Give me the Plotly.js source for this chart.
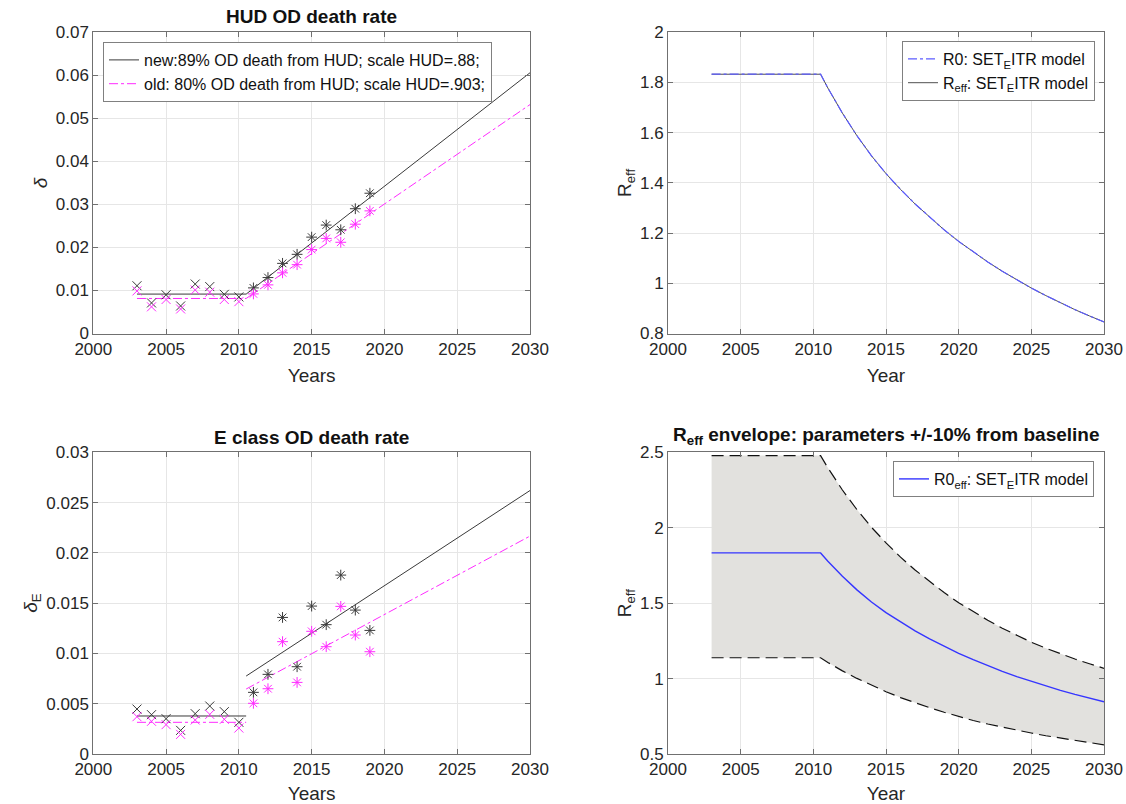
<!DOCTYPE html>
<html>
<head>
<meta charset="utf-8">
<script src="https://cdn.plot.ly/plotly-3.0.1.min.js"></script>
<style>
  html, body { margin: 0; padding: 0; background: #fff; }
  #chart { width: 1126px; height: 804px; }
</style>
</head>
<body>
<div id="chart"></div>
<script>
// Observation years for the OD death rate panels
const years = [2003, 2004, 2005, 2006, 2007, 2008, 2009, 2010, 2011, 2012, 2013, 2014, 2015, 2016, 2017, 2018, 2019];

// HUD OD death rate (delta): new vs old attribution
const hudNew = [0.0111, 0.0071, 0.0090, 0.0064, 0.0115, 0.0109, 0.0091, 0.0085, 0.0106, 0.0130, 0.0163, 0.0184, 0.0224, 0.0252, 0.0241, 0.0290, 0.0326];
const hudOld = [0.0099, 0.0062, 0.0079, 0.0057, 0.0101, 0.0096, 0.0079, 0.0074, 0.0092, 0.0113, 0.0141, 0.0160, 0.0195, 0.0221, 0.0212, 0.0254, 0.0285];

// Fitted piecewise lines for delta (flat until 2010.5, then linear)
const hudFitYears = [2003, 2010.5, 2030];
const hudNewFit = [0.00916, 0.00916, 0.0606];
const hudOldFit = [0.00814, 0.00814, 0.0532];

// E class OD death rate (delta_E)
const eNew = [0.00447, 0.00391, 0.00351, 0.00235, 0.00401, 0.00477, 0.00421, 0.00315, 0.00613, 0.00792, 0.01358, 0.00868, 0.01471, 0.01286, 0.01779, 0.01431, 0.01229];
const eOld = [0.00371, 0.00325, 0.00292, 0.00195, 0.00338, 0.00394, 0.00345, 0.00258, 0.00504, 0.00649, 0.01117, 0.00712, 0.01220, 0.01067, 0.01468, 0.01183, 0.01017];

// Fitted lines for delta_E: flat segment and trend segment
const eFlatYears = [2003, 2010.5];
const eNewFlat = [0.00378, 0.00378];
const eOldFlat = [0.00315, 0.00315];
const eTrendYears = [2010.5, 2030];
const eNewTrend = [0.00775, 0.0262];
const eOldTrend = [0.00646, 0.02167];

// Effective reproduction number over time
const rYears = [2003, 2010.5, 2011, 2012, 2013, 2014, 2015, 2016, 2017, 2018, 2019, 2020, 2021, 2022, 2023, 2024, 2025, 2026, 2027, 2028, 2029, 2030];
const r0 = [1.833, 1.833, 1.778, 1.678, 1.588, 1.508, 1.437, 1.374, 1.316, 1.263, 1.213, 1.167, 1.125, 1.085, 1.048, 1.013, 0.981, 0.951, 0.922, 0.895, 0.870, 0.846];
const reff = [1.833, 1.833, 1.778, 1.678, 1.588, 1.508, 1.437, 1.374, 1.316, 1.263, 1.213, 1.167, 1.125, 1.085, 1.048, 1.013, 0.981, 0.951, 0.922, 0.895, 0.870, 0.846];
// Envelope with parameters +/-10% from baseline
const reffUpper = [2.478, 2.478, 2.397, 2.250, 2.120, 2.003, 1.900, 1.805, 1.720, 1.642, 1.570, 1.503, 1.443, 1.387, 1.334, 1.285, 1.241, 1.201, 1.164, 1.130, 1.098, 1.068];
const reffLower = [1.138, 1.138, 1.107, 1.051, 1.001, 0.955, 0.913, 0.874, 0.839, 0.807, 0.777, 0.748, 0.722, 0.699, 0.678, 0.658, 0.639, 0.621, 0.605, 0.590, 0.575, 0.561];

const FONT = 'Liberation Sans, Arial, Helvetica, sans-serif';
const BLACK = '#3a3a3a';
const MAGENTA = '#ff2bff';
const symbols = years.map(y => (y <= 2010 ? 'x-thin-open' : 'asterisk-open'));

function markers(xa, ya, yv, color) {
  return {
    x: years, y: yv, xaxis: xa, yaxis: ya, type: 'scatter', mode: 'markers',
    showlegend: false, hoverinfo: 'x+y',
    marker: { symbol: symbols, size: 9, color: color, line: { color: color, width: 1 } }
  };
}
function line(xa, ya, xs, ys, color, dash, width, extra) {
  return Object.assign({
    x: xs, y: ys, xaxis: xa, yaxis: ya, type: 'scatter', mode: 'lines',
    showlegend: false,
    line: { color: color, dash: dash, width: width }
  }, extra || {});
}

const traces = [
  // HUD panel
  line('x', 'y', hudFitYears, hudNewFit, BLACK, 'solid', 1,
       { showlegend: true, legend: 'legend', name: 'new:89% OD death from HUD; scale HUD=.88;' }),
  line('x', 'y', hudFitYears, hudOldFit, MAGENTA, 'dashdot', 1,
       { showlegend: true, legend: 'legend', name: 'old: 80% OD death from HUD; scale HUD=.903;' }),
  markers('x', 'y', hudNew, BLACK),
  markers('x', 'y', hudOld, MAGENTA),

  // R_eff panel
  line('x2', 'y2', rYears, reff, '#505050', 'solid', 1,
       { showlegend: true, legend: 'legend2', legendrank: 2, name: 'R<sub>eff</sub>: SET<sub>E</sub>ITR model' }),
  line('x2', 'y2', rYears, r0, '#5c5cff', 'dashdot', 1.2,
       { showlegend: true, legend: 'legend2', legendrank: 1, name: 'R0: SET<sub>E</sub>ITR model' }),

  // E class panel
  line('x3', 'y3', eFlatYears, eNewFlat, BLACK, 'solid', 1),
  line('x3', 'y3', eTrendYears, eNewTrend, BLACK, 'solid', 1),
  line('x3', 'y3', eFlatYears, eOldFlat, MAGENTA, 'dashdot', 1),
  line('x3', 'y3', eTrendYears, eOldTrend, MAGENTA, 'dashdot', 1),
  markers('x3', 'y3', eNew, BLACK),
  markers('x3', 'y3', eOld, MAGENTA),

  // Envelope panel: shaded band, dashed bounds, baseline curve
  line('x4', 'y4', rYears, reffLower, 'rgba(0,0,0,0)', 'solid', 0),
  line('x4', 'y4', rYears, reffUpper, 'rgba(0,0,0,0)', 'solid', 0,
       { fill: 'tonexty', fillcolor: 'rgb(226,225,222)' }),
  line('x4', 'y4', rYears, reffUpper, '#111', '12px,6px', 1.2),
  line('x4', 'y4', rYears, reffLower, '#111', '12px,6px', 1.2),
  line('x4', 'y4', rYears, r0, '#3535ff', 'solid', 1.4,
       { showlegend: true, legend: 'legend3', name: 'R0<sub>eff</sub>: SET<sub>E</sub>ITR model' })
];

const xDomL = [93.3 / 1126, 530 / 1126];
const xDomR = [668 / 1126, 1104 / 1126];
const yDomT = [1 - 333.5 / 804, 1 - 32.3 / 804];
const yDomB = [1 - 754 / 804, 1 - 452.3 / 804];

function axis(domain, anchor, range, dtick, extra) {
  return Object.assign({
    domain: domain, anchor: anchor, range: range, dtick: dtick,
    showgrid: true, gridcolor: '#e6e6e6', gridwidth: 1,
    zeroline: false, showline: true, linecolor: '#707070', linewidth: 1,
    mirror: 'allticks', ticks: 'inside', ticklen: 5, tickcolor: '#707070',
    tickfont: { family: FONT, size: 17, color: '#262626' },
    fixedrange: true
  }, extra || {});
}
function xTitle(text) {
  return { text: text, font: { family: FONT, size: 19, color: '#262626' }, standoff: 10 };
}
function yTitle(text) {
  return { text: text, font: { family: FONT, size: 19, color: '#262626' }, standoff: 3 };
}

const legendBase = {
  bgcolor: '#ffffff', bordercolor: '#808080', borderwidth: 1,
  font: { family: FONT, size: 16, color: '#111' },
  xanchor: 'left', yanchor: 'top', tracegroupgap: 0, itemwidth: 30,
  traceorder: 'normal'
};

const titleFont = { family: FONT, size: 19, color: '#111' };
const titleNote = (text, xc, ytop) => ({
  text: text, x: xc, y: 1 - ytop / 804, xref: 'paper', yref: 'paper',
  showarrow: false, font: titleFont, xanchor: 'center', yanchor: 'middle'
});

const layout = {
  width: 1126, height: 804,
  margin: { l: 0, r: 0, t: 0, b: 0 },
  paper_bgcolor: '#ffffff', plot_bgcolor: '#ffffff',
  showlegend: true,
  xaxis: axis(xDomL, 'y', [2000, 2030], 5, { title: xTitle('Years') }),
  yaxis: axis(yDomT, 'x', [0, 0.07], 0.01, { title: yTitle('<i>δ</i>') }),
  xaxis2: axis(xDomR, 'y2', [2000, 2030], 5, { title: xTitle('Year') }),
  yaxis2: axis(yDomT, 'x2', [0.8, 2], 0.2, { title: yTitle('R<sub>eff</sub>') }),
  xaxis3: axis(xDomL, 'y3', [2000, 2030], 5, { title: xTitle('Years') }),
  yaxis3: axis(yDomB, 'x3', [0, 0.03], 0.005, { title: yTitle('<i>δ</i><sub>E</sub>') }),
  xaxis4: axis(xDomR, 'y4', [2000, 2030], 5, { title: xTitle('Year') }),
  yaxis4: axis(yDomB, 'x4', [0.5, 2.5], 0.5, { title: yTitle('R<sub>eff</sub>') }),
  legend: Object.assign({}, legendBase, { x: 103 / 1126, y: 1 - 42 / 804 }),
  legend2: Object.assign({}, legendBase, { x: 902 / 1126, y: 1 - 41 / 804 }),
  legend3: Object.assign({}, legendBase, { x: 893 / 1126, y: 1 - 461 / 804 }),
  annotations: [
    titleNote('<b>HUD OD death rate</b>', (xDomL[0] + xDomL[1]) / 2, 16),
    titleNote('<b>E class OD death rate</b>', (xDomL[0] + xDomL[1]) / 2, 437),
    titleNote('<b>R<sub>eff</sub> envelope: parameters +/-10% from baseline</b>', (xDomR[0] + xDomR[1]) / 2, 436)
  ]
};

Plotly.newPlot('chart', traces, layout, { displayModeBar: false, staticPlot: true });
</script>
</body>
</html>
